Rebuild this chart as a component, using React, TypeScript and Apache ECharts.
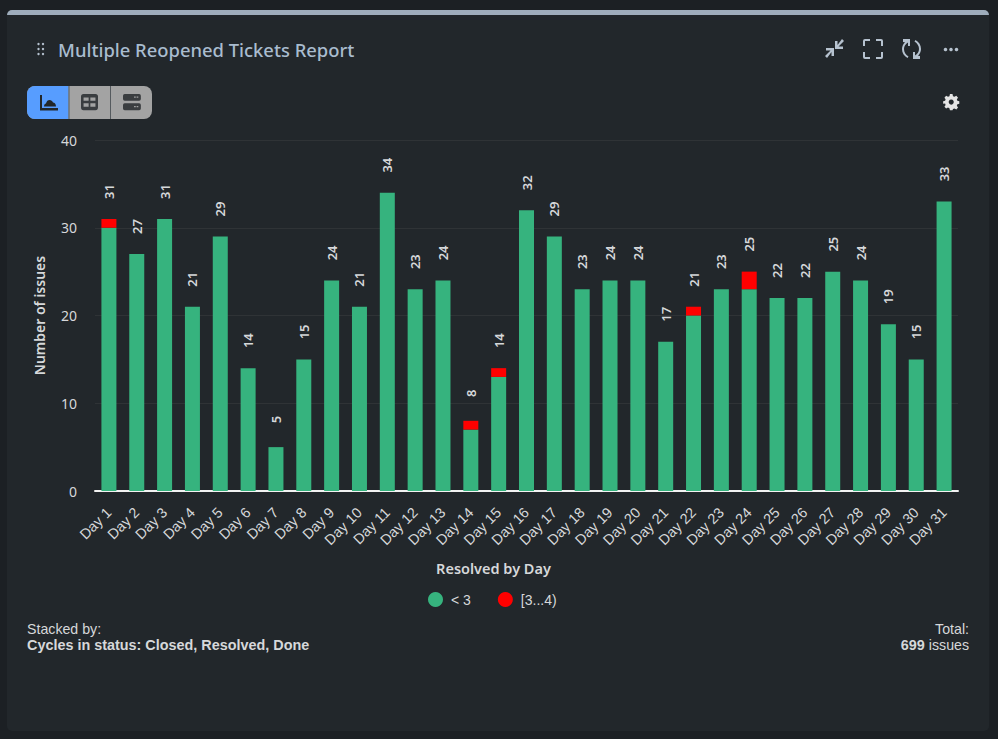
import React, { useEffect, useRef } from "react";
import * as echarts from "echarts";

const days = ["Day 1","Day 2","Day 3","Day 4","Day 5","Day 6","Day 7","Day 8","Day 9","Day 10","Day 11","Day 12","Day 13","Day 14","Day 15","Day 16","Day 17","Day 18","Day 19","Day 20","Day 21","Day 22","Day 23","Day 24","Day 25","Day 26","Day 27","Day 28","Day 29","Day 30","Day 31"];
const lessThan3 = [30,27,31,21,29,14,5,15,24,21,34,23,24,7,13,32,29,23,24,24,17,20,23,23,22,22,25,24,19,15,33];
const from3to4 = [1,0,0,0,0,0,0,0,0,0,0,0,0,1,1,0,0,0,0,0,0,1,0,2,0,0,0,0,0,0,0];
const totals = [31,27,31,21,29,14,5,15,24,21,34,23,24,8,14,32,29,23,24,24,17,21,23,25,22,22,25,24,19,15,33];

const SANS = '"Noto Sans", sans-serif';
const ARIAL = '"Liberation Sans", Arial, sans-serif';
const TEXT = "#d6d8da";
const ICON = "#b6c2cf";

echarts.graphic.registerShape("chartIcon", echarts.graphic.extendPath("M1 1h2v13h16v2.500H1z M5 12.500c0-2 1-3 2-3 .5-2.500 2-3.500 3.500-3.500s3 1 3.500 2.500c1.500 0 3 1.500 3 4z", {}));
echarts.graphic.registerShape("tableIcon", echarts.graphic.extendPath("M3 0h14a3 3 0 0 1 3 3v13a3 3 0 0 1-3 3H3a3 3 0 0 1-3-3V3a3 3 0 0 1 3-3z M3 4v4h6V4z M11 4v4h6V4z M3 11v4h6v-4z M11 11v4h6v-4z", {}));
echarts.graphic.registerShape("serverIcon", echarts.graphic.extendPath("M2 0h17a2 2 0 0 1 2 2v4a2 2 0 0 1-2 2H2a2 2 0 0 1-2-2V2a2 2 0 0 1 2-2z M2 11h17a2 2 0 0 1 2 2v4a2 2 0 0 1-2 2H2a2 2 0 0 1-2-2v-4a2 2 0 0 1 2-2z M13 3v1.500h2V3z M16 3v1.500h2V3z M13 14v1.500h2V14z M16 14v1.500h2V14z", {}));
echarts.graphic.registerShape("compressIcon", echarts.graphic.extendPath("M17 0l2 2-5.500 5.500H18V10H10V2h2.500v4z M0 17l5.500-5.500H1V9h8v8H6.500v-4L2 19z", {}));
echarts.graphic.registerShape("expandIcon", echarts.graphic.extendPath("M2 0h5v2H2v5H0V2a2 2 0 0 1 2-2z M13 0h5a2 2 0 0 1 2 2v5h-2V2h-5z M0 13h2v5h5v2H2a2 2 0 0 1-2-2z M18 13h2v5a2 2 0 0 1-2 2h-5v-2h5z", {}));
echarts.graphic.registerShape("refreshIcon", echarts.graphic.extendPath("M1 0H8V7H6V3.400C3.500 5 2 7 2 10c0 3 1.500 5.500 4.500 7.500L5.500 19C2 17 0 14 0 10c0-2.500 1-4.800 3-6.800L1 3z M18 20H11V13H13V16.600C15.500 15 17 13 17 10c0-3-1.500-5.500-4.500-7.500L13.500 1C17 3 19 6 19 10c0 2.500-1 4.800-3 6.800L18 17z", {}));
echarts.graphic.registerShape("gearIcon", echarts.graphic.extendPath("M7 0h3l.6 2.500 1.700.7L14.500 2l2 2.300-1.400 2 .6 1.700 2.300.6v3l-2.300.6-.6 1.700 1.400 2-2 2.300-2.200-1.200-1.700.7L10 19H7l-.6-2.300-1.700-.7-2.200 1.200-2-2.300 1.400-2-.6-1.700L-1 11.600v-3l2.300-.6.6-1.700-1.400-2 2-2.300 2.200 1.200 1.700-.7z M8.500 6.500a3 3 0 1 0 .01 0z", {}));

export default function App() {
  const ref = useRef<HTMLDivElement>(null);
  useEffect(() => {
    const chart = echarts.init(ref.current!, undefined, { renderer: "svg" });
    const dots: any[] = [];
    [38.5, 43].forEach((x) => [44, 49, 54].forEach((y) => dots.push({
      type: "circle", z: 1, shape: { cx: x, cy: y, r: 1.2 }, style: { fill: ICON },
    })));
    const dash: any[] = [945.5, 951, 956.500].map((x) => ({
      type: "circle", z: 1, shape: { cx: x, cy: 49.5, r: 1.8 }, style: { fill: ICON },
    }));
    chart.setOption({
      animation: false,
      backgroundColor: "#1c2024",
      graphic: { elements: [
        { type: "rect", z: -10, shape: { x: 7, y: 10, width: 982, height: 721, r: 5 }, style: { fill: "#22272b" } },
        { type: "rect", z: -9, shape: { x: 7, y: 10, width: 982, height: 5, r: [5, 5, 0, 0] }, style: { fill: "#9fadbc" } },
        ...dots,
        { type: "text", z: 1, x: 58, y: 40, style: { text: "Multiple Reopened Tickets Report", font: `500 18.4px ${SANS}`, fill: "#a9bccf" } },
        { type: "compressIcon", z: 1, x: 825, y: 39, style: { fill: ICON } },
        { type: "expandIcon", z: 1, x: 863, y: 39, style: { fill: ICON } },
        { type: "refreshIcon", z: 1, x: 902, y: 39, style: { fill: ICON } },
        ...dash,
        { type: "rect", z: 1, shape: { x: 27, y: 86, width: 125, height: 33, r: 8 }, style: { fill: "#a3a3a3" } },
        { type: "rect", z: 2, shape: { x: 27, y: 86, width: 41.500, height: 33, r: [8, 0, 0, 8] }, style: { fill: "#579dff" } },
        { type: "rect", z: 2, shape: { x: 68.5, y: 86, width: 1, height: 33 }, style: { fill: "#555a5e" } },
        { type: "rect", z: 2, shape: { x: 110, y: 86, width: 1, height: 33 }, style: { fill: "#555a5e" } },
        { type: "chartIcon", z: 3, x: 39, y: 94, style: { fill: "#22272b" } },
        { type: "tableIcon", z: 3, x: 81, y: 94, scaleX: 0.85, scaleY: 0.85, style: { fill: "#3a3d40", fillRule: "evenodd" } },
        { type: "serverIcon", z: 3, x: 123, y: 94, scaleX: 0.85, scaleY: 0.85, style: { fill: "#3a3d40", fillRule: "evenodd" } },
        { type: "gearIcon", z: 3, x: 944, y: 94, scaleX: 0.85, scaleY: 0.85, style: { fill: "#e4e4e4", fillRule: "evenodd" } },
        { type: "text", z: 1, x: 27, y: 622, style: { text: "Stacked by:", font: `14.2px ${ARIAL}`, fill: TEXT } },
        { type: "text", z: 1, x: 27, y: 638, style: { text: "Cycles in status: Closed, Resolved, Done", font: `bold 14.4px ${ARIAL}`, fill: TEXT } },
        { type: "text", z: 1, x: 969, y: 622, style: { text: "Total:", align: "right", font: `14.2px ${ARIAL}`, fill: TEXT } },
        { type: "text", z: 1, x: 969, y: 638, style: {
          text: "{b|699} issues", align: "right", font: `14.2px ${ARIAL}`, fill: TEXT,
          rich: { b: { font: `bold 14.4px ${ARIAL}`, fill: TEXT } },
        } },
      ] },
      legend: {
        data: ["< 3", "[3...4)"],
        left: 423, top: 587,
        icon: "circle", itemWidth: 15, itemHeight: 15, itemGap: 27,
        textStyle: { color: TEXT, fontFamily: ARIAL, fontSize: 14, padding: [0, 0, 0, 3] },
      },
      grid: { left: 95, right: 40, top: 140, bottom: 248, containLabel: false },
      xAxis: {
        type: "category", data: days,
        name: "Resolved by Day", nameLocation: "middle", nameGap: 69,
        nameTextStyle: { color: TEXT, fontFamily: SANS, fontSize: 14.5, fontWeight: 600, padding: [0, 66, 0, 0] },
        axisTick: { show: false },
        axisLine: { lineStyle: { color: "#f2f2f2", width: 2 } },
        axisLabel: { interval: 0, rotate: 45, color: TEXT, fontFamily: ARIAL, fontSize: 14.5, margin: 19 },
      },
      yAxis: {
        type: "value", min: 0, max: 40, interval: 10,
        name: "Number of issues", nameLocation: "middle", nameGap: 49,
        nameTextStyle: { color: TEXT, fontFamily: SANS, fontSize: 14, fontWeight: 600 },
        axisLine: { show: false }, axisTick: { show: false },
        axisLabel: { color: TEXT, fontFamily: SANS, fontSize: 14, margin: 18 },
        splitLine: { lineStyle: { color: "#2f3336", width: 1 } },
      },
      series: [
        { name: "< 3", type: "bar", stack: "s", barWidth: 15, data: lessThan3, itemStyle: { color: "#36b37e" } },
        { name: "[3...4)", type: "bar", stack: "s", barWidth: 15, data: from3to4, itemStyle: { color: "#ff0000" } },
        {
          name: "Total", type: "line", data: totals, symbol: "circle", symbolSize: 1,
          lineStyle: { opacity: 0 }, itemStyle: { color: "transparent" }, silent: true,
          label: { show: true, position: "top", distance: 26, offset: [1, 0], rotate: 90, align: "center", verticalAlign: "middle",
            color: TEXT, fontFamily: SANS, fontSize: 13, fontWeight: 600 },
        },
      ],
    });
    return () => chart.dispose();
  }, []);
  return <div ref={ref} style={{ position: "fixed", left: 0, top: 0, width: 998, height: 739 }} />;
}
